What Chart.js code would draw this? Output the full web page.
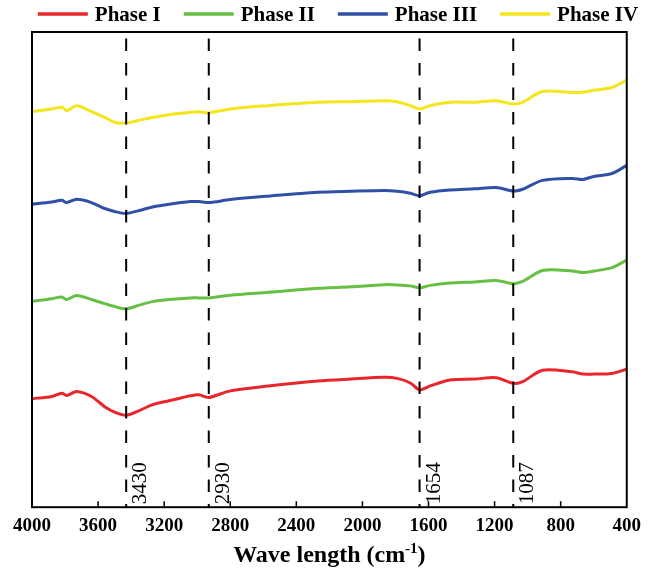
<!DOCTYPE html>
<html>
<head>
<meta charset="utf-8">
<script src="https://cdn.jsdelivr.net/npm/chart.js@4.4.1/dist/chart.umd.min.js"></script>
<style>
  html, body { margin: 0; padding: 0; background: #fff; }
  #wrap { width: 648px; height: 568px; }
</style>
</head>
<body>
<div id="wrap"><canvas id="ftirChart" width="648" height="568"></canvas></div>
<script>
const serif = "'Liberation Serif', 'Times New Roman', 'DejaVu Serif', serif";

// wavenumbers (cm-1) the spectra were read at
const wavenumbers = [4000, 3880, 3820, 3790, 3730, 3640, 3560, 3500, 3430, 3350, 3270, 3170,
    3040, 2990, 2930, 2800, 2570, 2270, 2070, 1870, 1790, 1710, 1654, 1590, 1470, 1320,
    1190, 1087, 1030, 910, 730, 665, 600, 490, 400];

// transmittance (arbitrary units, stacked)
const phase1 = [110, 112.3, 115.7, 113.3, 117.3, 112.3, 102, 96.5, 93.3, 98, 104, 108,
    113, 114, 111.3, 118, 123, 128, 130, 131.7, 130.7, 126, 119, 123, 129, 130,
    131.3, 125.7, 127.3, 139, 137.3, 135, 135, 135.7, 140];
const phase2 = [209, 211.5, 213.3, 210.7, 214.7, 210.7, 206.5, 203.5, 201.3, 205, 208.5, 210.7,
    212.3, 212.3, 212.3, 215, 218, 222, 223.5, 225.7, 225.5, 224.5, 222.5, 225, 227.3, 228.5,
    230, 226.7, 229, 240, 239.7, 238, 239.5, 243, 250.7];
const phase3 = [307.3, 309.5, 311.3, 309, 312.3, 309, 303, 300, 298, 301, 304.5, 307.3,
    310, 310, 309, 312, 315.5, 319.5, 320.5, 321.2, 320.5, 318.5, 316, 319.5, 321.8, 323,
    324.3, 320.7, 322.5, 331.5, 333.5, 332.5, 335.5, 338.5, 346.7];
const phase4 = [401.3, 404, 405.7, 402.3, 407.3, 401.3, 395.5, 390.5, 389.7, 392.5, 395.2, 398,
    400.5, 401, 400, 404, 407.3, 410.7, 411.3, 412.3, 411.3, 407.3, 404, 407.3, 410.7, 410.7,
    412.3, 409, 410.7, 421.7, 420.7, 421, 423, 425.7, 433.3];

const seriesNames = ['Phase I', 'Phase II', 'Phase III', 'Phase IV'];
const seriesColors = ['#e8262b', '#68bf45', '#3050a8', '#f4e61c'];

// marked bands
const peaks = [3430, 2930, 1654, 1087];

function toPoints(values) {
    return values.map((v, i) => ({ x: wavenumbers[i], y: v }));
}

// frame, inward ticks, dashed band markers, axis title with superscript
const decorPlugin = {
    id: 'decor',
    afterDatasetsDraw(chart) {
        const { ctx, chartArea: a, scales: { x } } = chart;
        ctx.save();
        ctx.strokeStyle = '#000';

        // small ticks pointing up into the plot
        ctx.lineWidth = 1.5;
        x.ticks.forEach(t => {
            if (t.value <= 400 || t.value >= 4000) return;
            const px = x.getPixelForValue(t.value);
            ctx.beginPath();
            ctx.moveTo(px, a.bottom);
            ctx.lineTo(px, a.bottom - 6);
            ctx.stroke();
        });

        // dashed lines + rotated labels
        ctx.lineWidth = 2;
        ctx.setLineDash([12.5, 12]);
        ctx.lineDashOffset = 18;
        peaks.forEach(p => {
            const px = x.getPixelForValue(p);
            ctx.beginPath();
            ctx.moveTo(px, a.top);
            ctx.lineTo(px, a.bottom);
            ctx.stroke();
        });
        ctx.setLineDash([]);

        ctx.fillStyle = '#000';
        ctx.font = '21px ' + serif;
        ctx.textAlign = 'left';
        ctx.textBaseline = 'alphabetic';
        peaks.forEach(p => {
            const px = x.getPixelForValue(p);
            ctx.save();
            ctx.translate(px + 20, a.bottom - 3);
            ctx.rotate(-Math.PI / 2);
            ctx.fillText(String(p), 0, 0);
            ctx.restore();
        });

        // box
        ctx.lineWidth = 2;
        ctx.strokeRect(a.left, a.top, a.right - a.left, a.bottom - a.top);

        // x title: Wave length (cm^-1)
        const big = 'bold 24px ' + serif, small = 'bold 15px ' + serif;
        const parts = [['Wave length (cm', big, 0], ['-1', small, -9], [')', big, 0]];
        let w = 0;
        parts.forEach(pt => { ctx.font = pt[1]; w += ctx.measureText(pt[0]).width; });
        let tx = (a.left + a.right) / 2 - w / 2;
        const ty = 562;
        parts.forEach(pt => {
            ctx.font = pt[1];
            ctx.fillText(pt[0], tx, ty + pt[2]);
            tx += ctx.measureText(pt[0]).width;
        });
        ctx.restore();
    }
};

// legend row above the frame
const legendPlugin = {
    id: 'topLegend',
    afterDraw(chart) {
        const ctx = chart.ctx;
        ctx.save();
        ctx.font = 'bold 21px ' + serif;
        const lineLen = 50, gap = 7, itemGap = 23;
        const items = chart.data.datasets.map(ds => ({
            text: ds.label,
            color: ds.borderColor,
            w: ctx.measureText(ds.label).width
        }));
        const total = items.reduce((s, it) => s + lineLen + gap + it.w, 0) + itemGap * (items.length - 1);
        let cx = 338 - total / 2;
        ctx.textBaseline = 'alphabetic';
        ctx.textAlign = 'left';
        items.forEach(it => {
            ctx.strokeStyle = it.color;
            ctx.lineWidth = 3.5;
            ctx.beginPath();
            ctx.moveTo(cx, 14);
            ctx.lineTo(cx + lineLen, 14);
            ctx.stroke();
            ctx.fillStyle = '#000';
            ctx.fillText(it.text, cx + lineLen + gap, 21);
            cx += lineLen + gap + it.w + itemGap;
        });
        ctx.restore();
    }
};

new Chart(document.getElementById('ftirChart'), {
    type: 'line',
    data: {
        datasets: [phase1, phase2, phase3, phase4].map((vals, i) => ({
            label: seriesNames[i],
            data: toPoints(vals),
            borderColor: seriesColors[i],
            borderWidth: 3,
            pointRadius: 0,
            tension: 0.3,
            fill: false
        }))
    },
    options: {
        responsive: false,
        animation: false,
        layout: { padding: { left: 32, right: 17, top: 32, bottom: 24 } },
        plugins: {
            legend: { display: false },
            tooltip: { enabled: false }
        },
        scales: {
            x: {
                type: 'linear',
                reverse: true,
                min: 400,
                max: 4000,
                grid: { display: false, drawTicks: false },
                border: { display: false },
                ticks: {
                    stepSize: 400,
                    maxRotation: 0,
                    autoSkip: false,
                    padding: 7,
                    color: '#000',
                    font: { family: serif, size: 19, weight: 'bold' },
                    callback: v => String(v)
                }
            },
            y: {
                display: false,
                min: 0,
                max: 482
            }
        }
    },
    plugins: [decorPlugin, legendPlugin]
});
</script>
</body>
</html>
